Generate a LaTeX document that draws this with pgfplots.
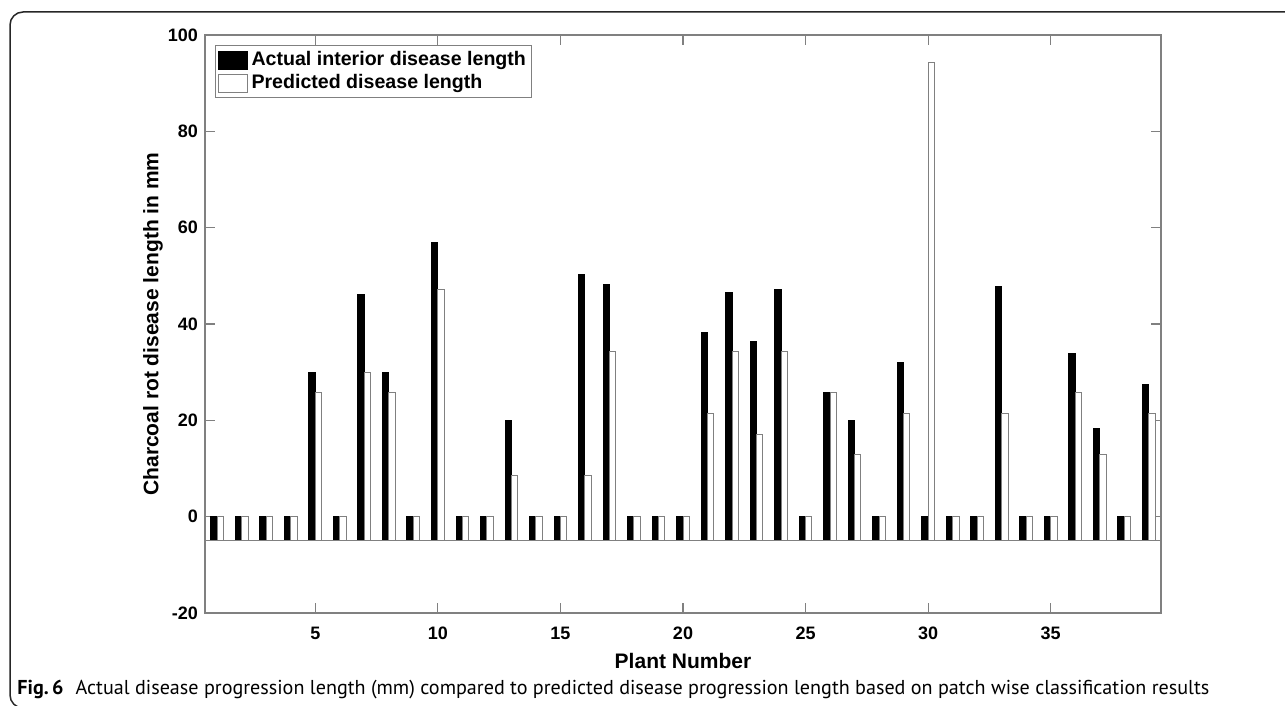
\documentclass[border=0pt]{standalone}
\usepackage{fontspec}
\setmainfont{Liberation Sans}
\newfontfamily\capfont{PT Sans}
\usepackage{graphicx}
\usepackage{pgfplots}
\pgfplotsset{compat=1.18}
\usepackage{pgfplotstable}

\definecolor{axgray}{gray}{0.5}

% plant, actual interior length, predicted length (mm)
\pgfplotstableread{
plant actual predicted
1  0     0
2  0     0
3  0     0
4  0     0
5  30.0  25.68
6  0     0
7  46.1  29.96
8  30.0  25.68
9  0     0
10 57.0  47.1
11 0     0
12 0     0
13 20.0  8.56
14 0     0
15 0     0
16 50.3  8.56
17 48.1  34.24
18 0     0
19 0     0
20 0     0
21 38.3  21.4
22 46.5  34.24
23 36.3  17.12
24 47.1  34.24
25 0     0
26 25.8  25.68
27 19.9  12.84
28 0     0
29 32.1  21.4
30 0     94.3
31 0     0
32 0     0
33 47.8  21.4
34 0     0
35 0     0
36 33.9  25.68
37 18.2  12.84
38 0     0
39 27.4  21.4
}\datatable

\pgfplotsset{
  boxlegend/.style={legend image code/.code={
    \draw[##1,/tikz/.cd] (0pt,-4.5pt) rectangle (14.5pt,4.5pt);}},
}

\begin{document}
\begin{tikzpicture}
\useasboundingbox (0,0) rectangle (642.5pt,353pt);
\draw[line width=0.75pt, black!85, rounded corners=6.5pt] (5pt,-1pt) rectangle (700pt,347pt);

% bars are drawn from -5, so values are shifted by +5 on the axis
\begin{axis}[
  at={(102.5pt,46.5pt)}, anchor=south west,
  scale only axis, width=478pt, height=289pt,
  xmin=0.5, xmax=39.5, ymin=-15, ymax=105,
  xtick={5,10,...,35}, xticklabels={5,10,15,20,25,30,35},
  ytick={-15,5,25,45,65,85,105}, yticklabels={-20,0,20,40,60,80,100},
  tick pos=both, tick align=inside, major tick length=5pt,
  axis line style={axgray, line width=0.6pt},
  tick style={axgray, line width=0.6pt},
  ticklabel style={font=\bfseries\fontsize{9}{10}\selectfont},
  xticklabel style={anchor=center, yshift=-10pt},
  xlabel={Plant Number},
  ylabel={Charcoal rot disease length in mm},
  label style={font=\bfseries\fontsize{10.5}{12}\selectfont},
  xlabel style={at={(axis description cs:0.5,0)}, anchor=center, yshift=-24pt},
  ylabel style={at={(axis description cs:-0.0544,0.5)}, anchor=center},
  legend style={at={(0,1)}, anchor=north west, xshift=5pt, yshift=-5pt,
    draw=axgray, line width=0.5pt, inner xsep=1pt, inner ysep=1pt,
    font=\bfseries\fontsize{9.8}{11}\selectfont, cells={anchor=west},
    row sep=-1pt},
]
\addplot[ybar, boxlegend, bar width=0.26, bar shift=-0.13, fill=black, draw=black, line width=0.5pt]
  table[x=plant, y expr=\thisrow{actual}+5] {\datatable};
\addplot[ybar, boxlegend, bar width=0.26, bar shift=0.13, fill=white, draw=axgray, line width=0.5pt]
  table[x=plant, y expr=\thisrow{predicted}+5] {\datatable};
\draw[axgray, line width=0.6pt] (axis cs:0.5,0) -- (axis cs:39.5,0);
\legend{Actual interior disease length, Predicted disease length}
\end{axis}

\node[anchor=base west, inner sep=0pt] at (8.5pt,5.5pt)
  {\resizebox{596pt}{!}{\capfont\textbf{Fig.\,6}\hspace{0.6em}Actual disease progression length (mm) compared to predicted disease progression length based on patch wise classification results}};
\end{tikzpicture}
\end{document}
